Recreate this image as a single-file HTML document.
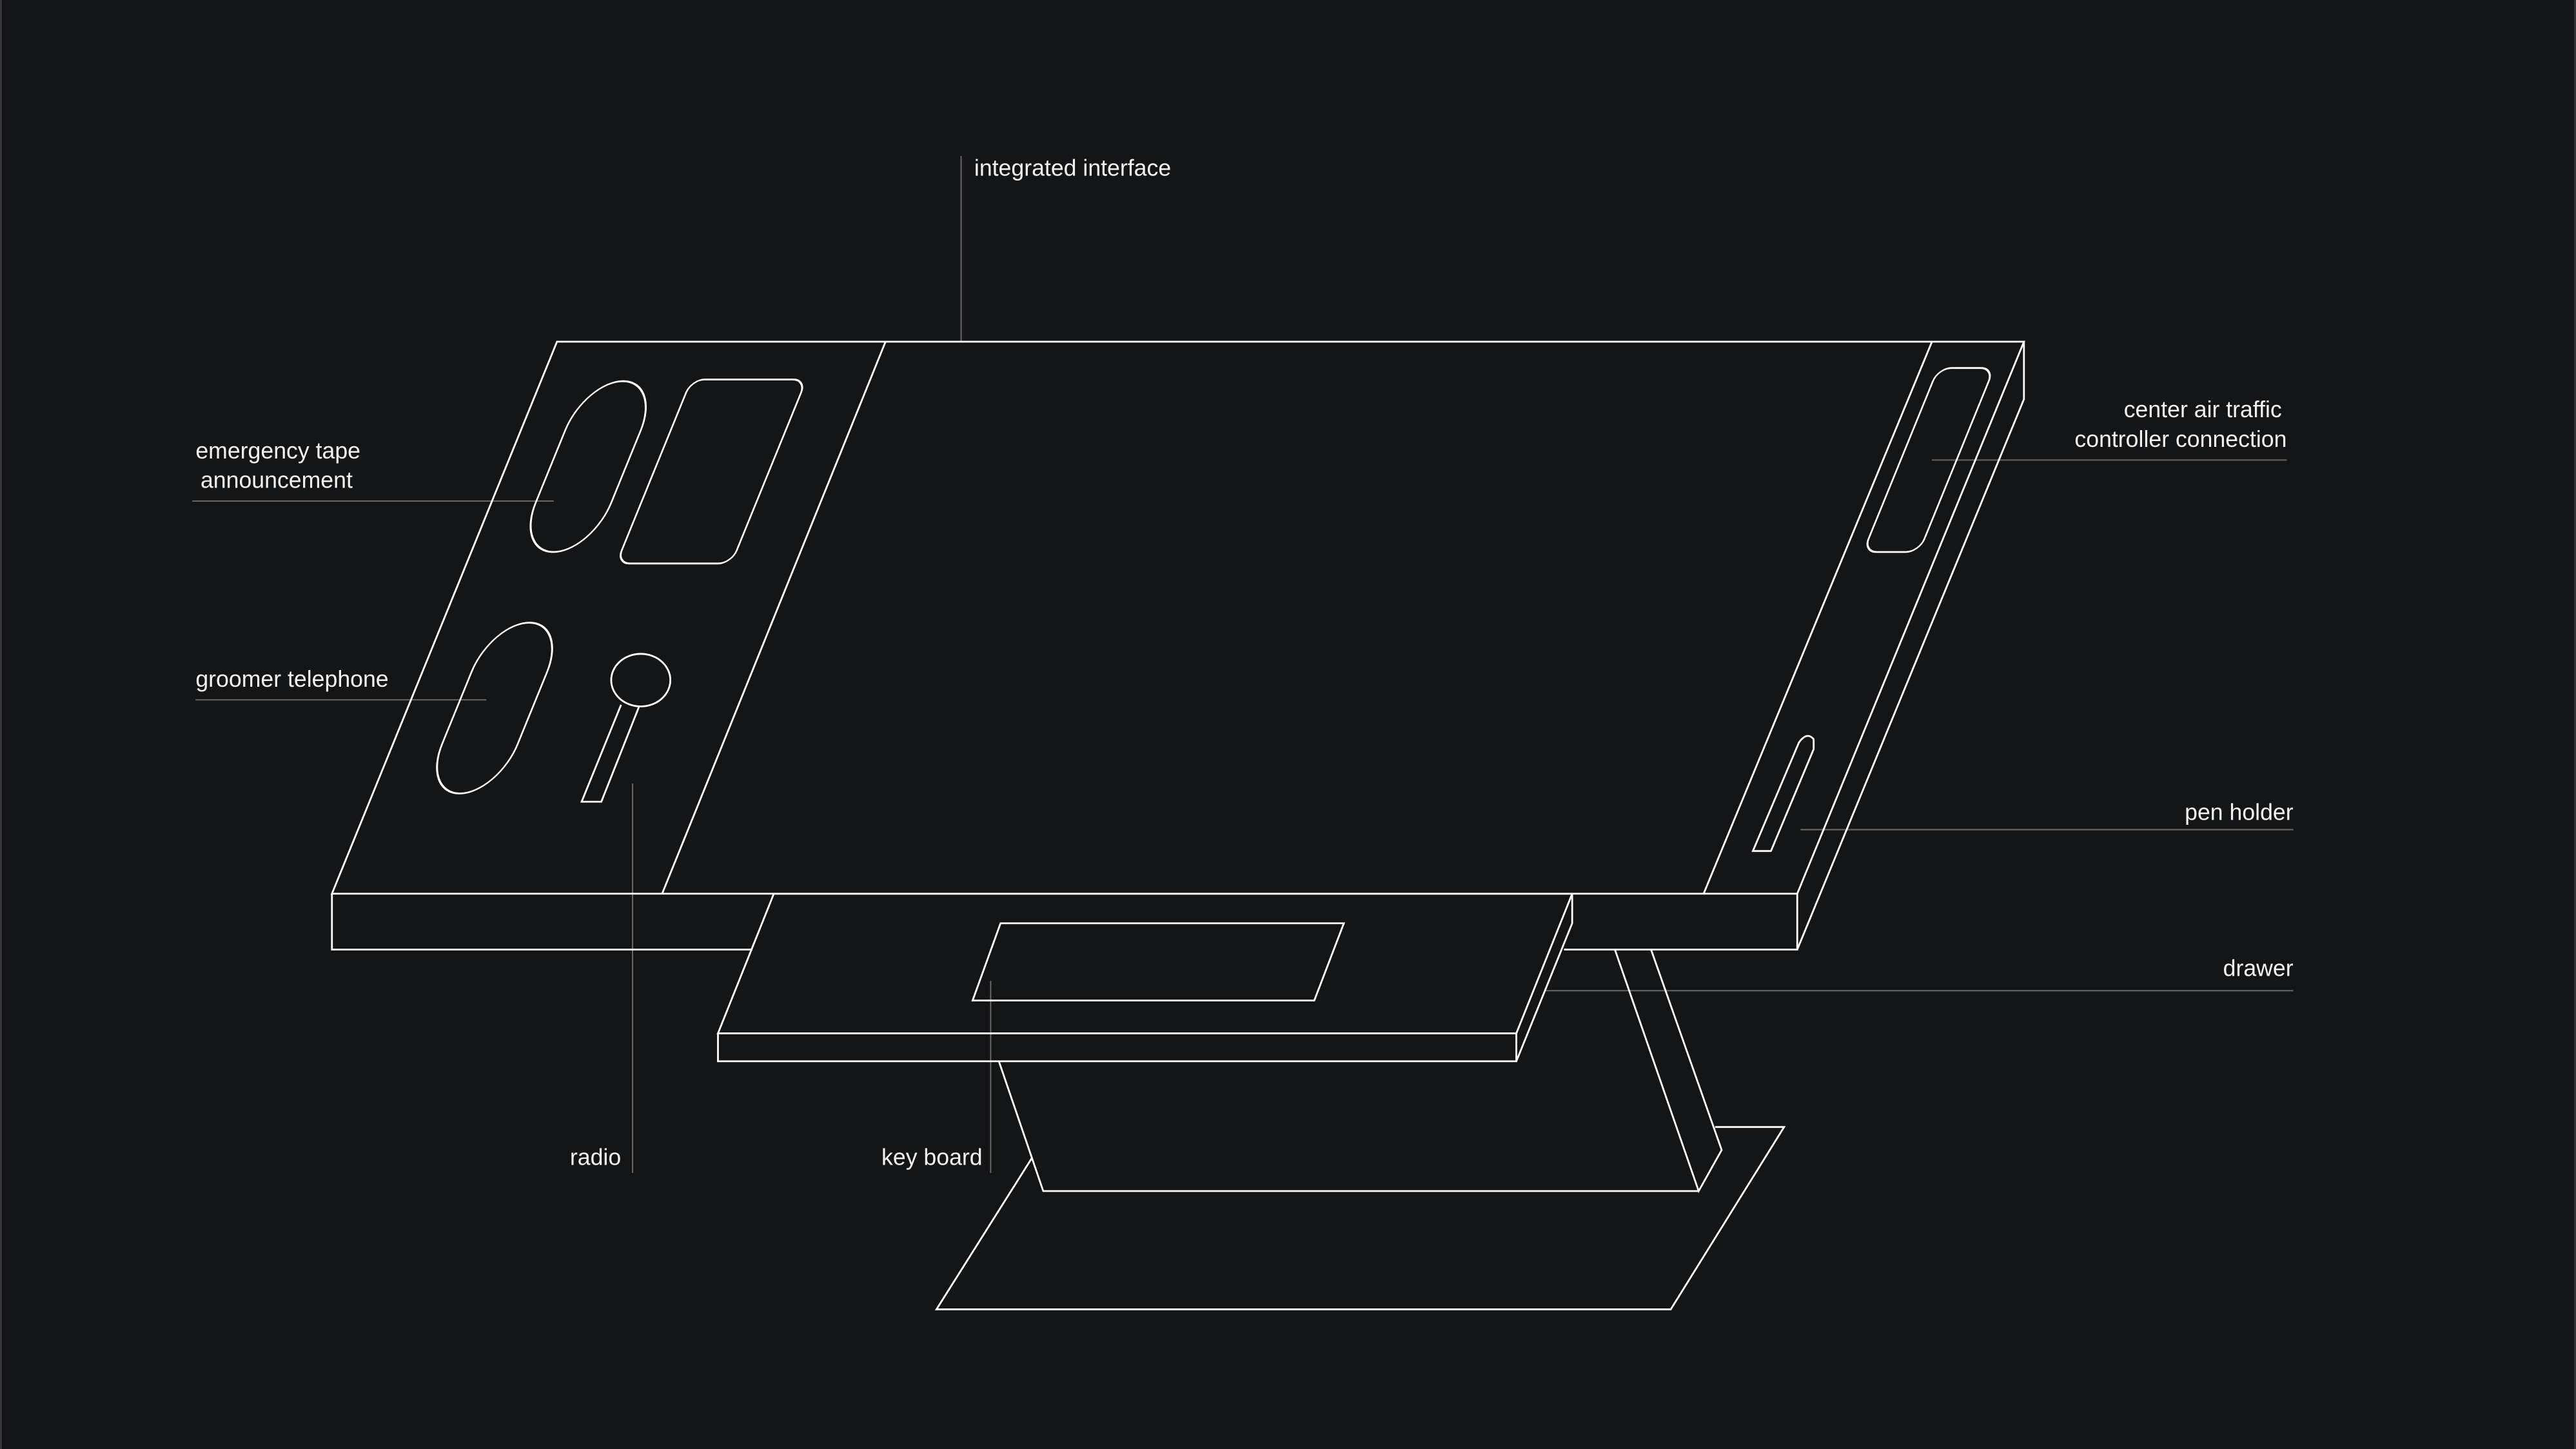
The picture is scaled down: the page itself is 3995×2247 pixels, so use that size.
<!DOCTYPE html>
<html><head><meta charset="utf-8"><style>
html,body{margin:0;padding:0;background:#141517;}
svg{display:block;}
text{font-family:"Liberation Sans",sans-serif;font-size:14px;fill:#f2f2f2;}
</style></head><body>
<svg width="3995" height="2247" viewBox="0 0 1568 882" xmlns="http://www.w3.org/2000/svg">
<rect x="0" y="0" width="1568" height="882" fill="#141517"/>
<line x1="0.5" y1="0" x2="0.5" y2="882" stroke="#3a3a3c" stroke-width="1"/>
<line x1="1567.5" y1="0" x2="1567.5" y2="882" stroke="#3a3a3c" stroke-width="1"/>
<g stroke="#666" stroke-width="0.8" fill="none">
<line x1="585" y1="95" x2="585" y2="208"/>
<line x1="117" y1="305" x2="337" y2="305"/>
<line x1="119" y1="426" x2="296" y2="426"/>
<line x1="1176" y1="280" x2="1392" y2="280"/>
<line x1="1096" y1="505" x2="1396" y2="505"/>
<line x1="940" y1="603" x2="1396" y2="603"/>
<line x1="385" y1="477" x2="385" y2="714"/>
<line x1="603" y1="597" x2="603" y2="714"/>
</g>
<g stroke="#fff" stroke-width="1.1" fill="none" stroke-linejoin="miter">
<path d="M339,208 L1232,208 L1094,544 L202,544 Z"/>
<path d="M202,544 L202,578 L458,578"/>
<path d="M952,578 L1094,578 L1094,544"/>
<path d="M1232,208 L1232,243 L1094,578"/>
<line x1="539" y1="208" x2="403" y2="544"/>
<line x1="1176" y1="208" x2="1037" y2="544"/>
<g transform="translate(358,284) skewX(-22.2)"><rect x="-23" y="-52" width="46" height="104" rx="23" ry="30"/></g>
<g transform="translate(433,287) skewX(-22.2)"><rect x="-35" y="-56" width="70" height="112" rx="8" ry="8"/></g>
<g transform="translate(301,431) skewX(-22.2)"><rect x="-23" y="-52" width="46" height="104" rx="23" ry="30"/></g>
<ellipse cx="390" cy="414" rx="18" ry="16"/>
<path d="M378,429 L354,488 L366,488 L389,430"/>
<g transform="translate(1174,280) skewX(-22.2)"><rect x="-17" y="-56" width="34" height="112" rx="8" ry="8"/></g>
<path d="M1067,518 L1095,452 Q1100,445 1104,450 L1104,456 L1078,518 Z"/>
<path d="M471,544 L957,544 L923,629 L437,629 Z"/>
<path d="M437,629 L437,646 L923,646 L923,629"/>
<path d="M957,544 L957,562 L923,646"/>
<path d="M609,562 L818,562 L800,609 L592,609 Z"/>
<path d="M608,646 L635,725 L1034,725"/>
<path d="M983,578 L1034,725 L1048,700 L1005,578"/>
<path d="M628,705 L570,797 L1017,797 L1086,686 L1044,686"/>
</g>
<text x="593" y="107">integrated interface</text>
<text x="119" y="279">emergency tape</text>
<text x="122" y="297">announcement</text>
<text x="119" y="418">groomer telephone</text>
<text x="1389" y="254" text-anchor="end">center air traffic</text>
<text x="1392" y="272" text-anchor="end">controller connection</text>
<text x="1396" y="499" text-anchor="end">pen holder</text>
<text x="1396" y="594" text-anchor="end">drawer</text>
<text x="378" y="709" text-anchor="end">radio</text>
<text x="598" y="709" text-anchor="end">key board</text>
</svg>
</body></html>
